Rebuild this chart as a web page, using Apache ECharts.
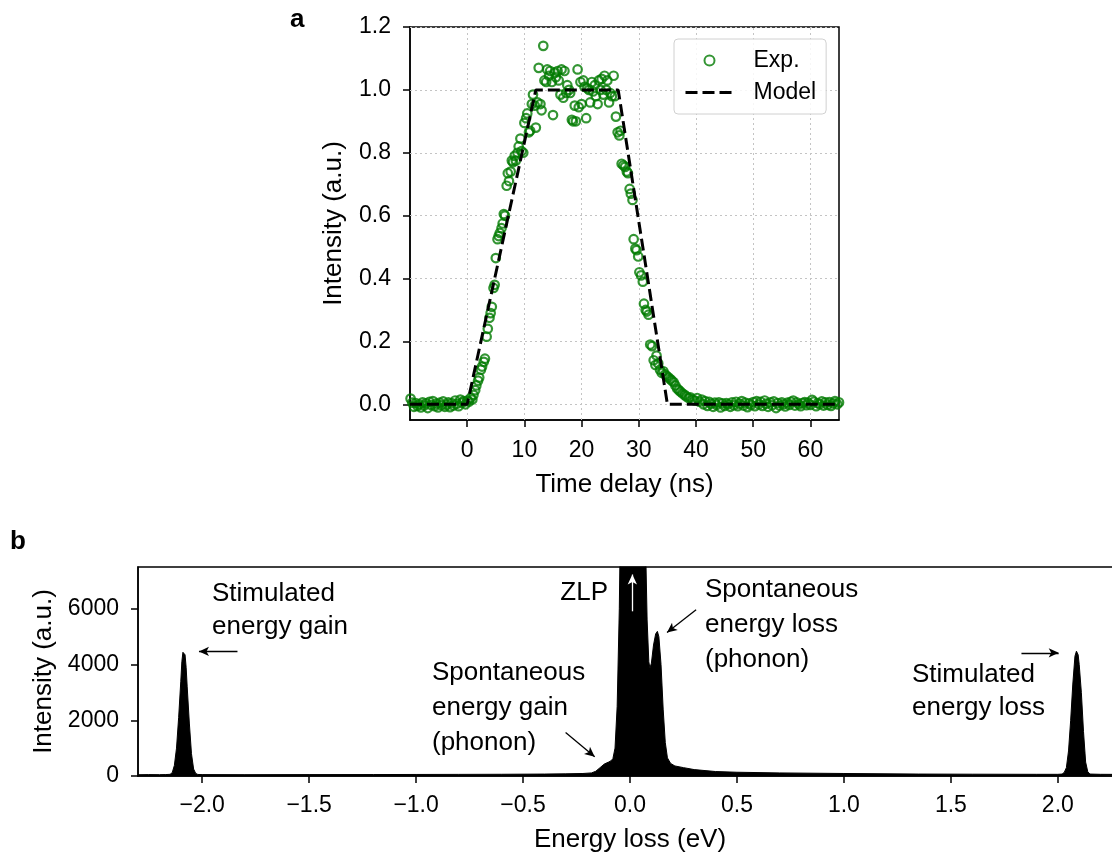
<!DOCTYPE html>
<html><head><meta charset="utf-8">
<script src="https://cdn.jsdelivr.net/npm/echarts@6/dist/echarts.min.js"></script>
<style>html,body{margin:0;padding:0;background:#fff}#c{width:1112px;height:853px}</style>
</head><body><div id="c"></div>
<script>
// ---------- Panel a data ----------
const expPoints = [
[-9.9,0.018],[-9.6,0.005],[-9.3,-0.008],[-9.0,0.004],[-8.7,-0.005],[-8.4,0.0],[-8.1,-0.01],[-7.8,0.006],[-7.5,-0.004],[-7.2,0.003],
[-6.9,-0.012],[-6.6,0.008],[-6.3,-0.002],[-6.0,0.01],[-5.7,-0.006],[-5.4,0.002],[-5.1,-0.01],[-4.8,0.005],[-4.5,-0.003],[-4.2,0.009],
[-3.9,-0.008],[-3.6,-0.001],[-3.3,0.006],[-3.0,-0.009],[-2.7,0.004],[-2.4,-0.004],[-2.1,0.012],[-1.8,0.002],[-1.5,-0.006],[-1.2,0.015],
[-0.9,0.005],[-0.6,0.01],[-0.3,0.0],[0.0,0.012],[0.3,0.008],[0.6,0.02],
[0.9,0.015],[1.1,0.03],[1.4,0.045],[1.6,0.06],[1.9,0.075],[2.1,0.085],[2.4,0.11],[2.6,0.12],[2.9,0.135],[3.1,0.145],
[3.4,0.215],[3.6,0.24],[3.9,0.275],[4.1,0.29],[4.3,0.31],[4.6,0.37],[4.8,0.38],[5.0,0.465],[5.3,0.525],[5.5,0.535],
[5.7,0.545],[6.0,0.56],[6.2,0.575],[6.4,0.605],[6.6,0.6],[6.9,0.695],[7.1,0.735],[7.3,0.71],[7.6,0.74],[7.8,0.775],
[8.0,0.77],[8.3,0.79],[8.5,0.775],[8.8,0.8],[9.0,0.82],[9.3,0.845],[9.5,0.805],[9.8,0.8],[10.0,0.895],[10.3,0.91],
[10.5,0.925],[10.8,0.865],[11.0,0.87],[11.3,0.955],[11.5,0.985],[11.8,0.95],
[12.0,0.88],[12.3,0.96],[12.5,1.07],[12.8,0.955],[13.0,0.935],[13.3,1.14],[13.5,1.03],[13.8,1.025],[14.0,1.065],[14.3,1.045],
[14.5,1.06],[14.8,1.025],[15.0,0.92],[15.3,1.055],[15.5,1.04],[15.8,1.06],[16.0,1.03],[16.3,0.985],[16.5,1.065],[16.8,0.975],
[17.0,1.06],[17.3,0.99],[17.5,1.015],[17.8,1.0],[18.0,0.99],[18.3,0.905],[18.5,0.9],[18.8,0.95],[19.0,0.9],[19.3,1.065],
[19.5,0.945],[19.8,1.025],[20.0,0.955],[20.3,1.03],[20.5,1.01],[20.8,0.91],[21.0,1.005],[21.3,1.0],[21.5,0.96],[21.8,1.025],
[22.0,0.995],[22.3,1.015],[22.5,0.98],[22.8,0.955],[23.0,1.03],[23.3,1.0],[23.5,1.035],[23.8,0.985],[24.0,1.045],[24.3,1.0],
[24.5,1.03],[24.8,0.96],[25.0,0.99],[25.3,0.98],[25.6,1.045],[25.8,0.98],
[26.0,0.915],[26.3,0.865],[26.6,0.855],[26.8,0.87],[27.0,0.765],[27.3,0.76],[27.6,0.755],[27.9,0.74],[28.1,0.735],[28.4,0.685],
[28.6,0.67],[28.9,0.65],[29.1,0.525],[29.4,0.495],[29.6,0.49],[29.9,0.47],[30.1,0.42],[30.4,0.41],[30.7,0.39],[30.9,0.32],
[31.2,0.3],[31.4,0.295],[31.7,0.285],[32.0,0.19],[32.3,0.185],[32.6,0.14],[32.9,0.125],[33.1,0.155],[33.4,0.13],[33.7,0.11],
[34.0,0.1],[34.3,0.105],[34.6,0.095],[34.9,0.09],[35.2,0.085],[35.5,0.08],[35.8,0.075],[36.1,0.07],[36.4,0.06],[36.7,0.05],
[37.0,0.045],[37.3,0.04],[37.6,0.035],[38.0,0.03],[38.3,0.025],[38.7,0.02],[39.0,0.022],[39.4,0.015],[39.8,0.012],[40.2,0.02],
[40.6,0.008],[41.0,0.015],
[41.3,0.0],[41.6,0.01],[42.0,-0.005],[42.3,0.008],[42.6,0.002],[43.0,-0.008],[43.3,0.005],[43.6,-0.002],[44.0,0.006],[44.3,-0.01],
[44.6,0.003],[45.0,-0.005],[45.3,0.004],[45.6,0.0],[46.0,-0.008],[46.3,0.006],[46.6,-0.003],[47.0,0.008],[47.3,-0.006],[47.6,0.002],
[48.0,0.01],[48.3,-0.004],[48.6,0.005],[49.0,-0.009],[49.3,0.003],[49.6,-0.002],[50.0,0.007],[50.3,-0.006],[50.6,0.01],[51.0,0.0],
[51.3,0.008],[51.6,-0.005],[52.0,0.012],[52.3,0.002],[52.6,-0.008],[53.0,0.006],[53.3,-0.003],[53.6,0.009],[54.0,-0.012],[54.3,0.004],
[54.6,-0.004],[55.0,0.006],[55.3,0.0],[55.6,-0.007],[56.0,0.005],[56.3,-0.002],[56.6,0.008],[57.0,0.012],[57.3,-0.004],[57.6,0.006],
[58.0,0.0],[58.3,-0.006],[58.6,0.004],[59.0,0.007],[59.3,-0.003],[59.6,0.005],[60.0,-0.002],[60.3,0.014],[60.6,0.008],[61.0,-0.006],
[61.3,0.004],[61.6,0.0],[62.0,0.009],[62.3,-0.004],[62.6,0.006],[63.0,-0.002],[63.3,0.007],[63.6,-0.005],[64.0,0.003],[64.3,0.01],
[64.7,0.0],[65.0,0.006]
];
const modelTime = [-10, 0, 12, 26.4, 35, 65];
const modelIntensity = [0, 0, 1, 1, 0, 0];
const timeTicks = [0, 10, 20, 30, 40, 50, 60];
const intensityTicks = [0, 0.2, 0.4, 0.6, 0.8, 1.0, 1.2];

// ---------- Panel b data ----------
const spectrum = [
[-2.30,45],[-2.25,50],[-2.20,48],[-2.17,52],[-2.15,60],[-2.14,120],[-2.13,380],[-2.12,1000],[-2.11,2100],[-2.10,3400],
[-2.095,4100],[-2.09,4440],[-2.085,4500],[-2.08,4350],[-2.075,3900],[-2.07,3200],[-2.06,1900],[-2.05,800],[-2.04,250],[-2.03,90],
[-2.02,55],[-2.0,50],[-1.8,48],[-1.5,50],[-1.2,52],[-1.0,55],[-0.8,58],[-0.6,62],[-0.4,70],[-0.3,78],
[-0.22,90],[-0.18,110],[-0.16,170],[-0.14,300],[-0.12,430],[-0.1,500],[-0.09,540],[-0.08,620],[-0.07,1000],[-0.06,2500],
[-0.05,6000],[-0.04,12000],[-0.02,30000],[0.0,48000],[0.015,52000],[0.03,45000],[0.05,25000],[0.065,12000],[0.075,7500],[0.08,5600],
[0.088,4100],[0.093,3870],[0.1,4050],[0.11,4700],[0.12,5100],[0.128,5190],[0.135,5000],[0.145,4000],[0.155,2400],[0.165,1200],
[0.175,650],[0.19,450],[0.21,360],[0.25,300],[0.3,230],[0.4,160],[0.5,135],[0.7,110],[1.0,90],[1.35,70],
[1.6,65],[1.9,60],[2.0,60],[2.02,70],[2.03,130],[2.04,300],[2.05,900],[2.06,2000],[2.07,3300],[2.08,4300],
[2.087,4480],[2.095,4350],[2.1,4000],[2.11,3000],[2.12,1600],[2.13,500],[2.14,150],[2.15,70],[2.2,60],[2.3,58]
];
const energyTicks = [-2.0, -1.5, -1.0, -0.5, 0.0, 0.5, 1.0, 1.5, 2.0];
const countTicks = [0, 2000, 4000, 6000];

// annotation arrows (data coordinates of panel b)
const arrowFrom = [[-1.835,4470],[1.83,4420],[-0.301,1558],[0.309,5964],[0.011,5910]];
const arrowTo   = [[-2.015,4470],[2.004,4420],[-0.165,694],[0.173,5147],[0.011,7230]];
const arrowColor = ['#000','#000','#000','#000','#fff'];

const FONT = "'Liberation Sans', Arial, Helvetica, sans-serif";
const chart = echarts.init(document.getElementById('c'));

const axisLine = {show:true, onZero:false, lineStyle:{color:'#000', width:1.5}};
function ticks(vals){ return {show:true, customValues:vals, length:7, inside:false, lineStyle:{color:'#000', width:1.5}}; }
function minus(s){ return s.replace('-', '\u2212'); }
const nameStyle = {fontSize:26, color:'#000', fontFamily:FONT};
const gridLineStyle = {color:'#c4c4c4', width:1, type:[2,3]};
const modelLineStyle = {color:'#000', width:3, type:[12,5]};

const gridLines = intensityTicks.map(v => ({yAxis:v}))
  .concat(timeTicks.map(v => ({xAxis:v})));

const option = {
  animation:false,
  textStyle:{fontFamily:FONT},
  grid:[
    {left:410, top:27, width:429, height:393, show:true, borderColor:'#000', borderWidth:1.5, outerBoundsMode:'none', containLabel:false},
    {left:138, top:567, width:984, height:209, show:true, borderColor:'#000', borderWidth:1.5, outerBoundsMode:'none', containLabel:false}
  ],
  xAxis:[
    {type:'value', gridIndex:0, min:-10, max:65,
     name:'Time delay (ns)', nameLocation:'middle', nameGap:52, nameTextStyle:nameStyle,
     axisLine:axisLine, axisTick:ticks(timeTicks),
     axisLabel:{customValues:timeTicks, fontSize:23, color:'#000', margin:19, fontFamily:FONT},
     splitLine:{show:false}},
    {type:'value', gridIndex:1, min:-2.3, max:2.3,
     name:'Energy loss (eV)', nameLocation:'middle', nameGap:51, nameTextStyle:nameStyle,
     axisLine:axisLine, axisTick:ticks(energyTicks),
     axisLabel:{customValues:energyTicks, fontSize:23, color:'#000', margin:18, fontFamily:FONT,
       formatter:v=>minus(Number(v).toFixed(1))},
     splitLine:{show:false}}
  ],
  yAxis:[
    {type:'value', gridIndex:0, min:-0.05, max:1.2,
     name:'Intensity (a.u.)', nameLocation:'middle', nameGap:63, nameTextStyle:nameStyle,
     axisLine:axisLine, axisTick:ticks(intensityTicks),
     axisLabel:{customValues:intensityTicks, fontSize:23, color:'#000', margin:19, fontFamily:FONT,
       formatter:v=>Number(v).toFixed(1)},
     splitLine:{show:false}},
    {type:'value', gridIndex:1, min:0, max:7500,
     name:'Intensity (a.u.)', nameLocation:'middle', nameGap:78, nameTextStyle:nameStyle,
     axisLine:axisLine, axisTick:ticks(countTicks),
     axisLabel:{customValues:countTicks, fontSize:23, color:'#000', margin:19, fontFamily:FONT,
       formatter:v=>String(Math.round(v))},
     splitLine:{show:false}}
  ],
  legend:{
    show:true, left:674, top:39, orient:'vertical', padding:[10,10,10,10], itemGap:9,
    itemWidth:48, itemHeight:10, borderColor:'#d0d0d0', borderWidth:1, borderRadius:4,
    backgroundColor:'rgba(255,255,255,0.85)', selectedMode:false, z:10,
    textStyle:{fontSize:23, color:'#000', fontFamily:FONT, padding:[0,0,0,15]},
    data:[{name:'Exp.', icon:'circle'},
          {name:'Model', itemStyle:{opacity:0}, lineStyle:modelLineStyle}]
  },
  series:[
    {type:'line', name:'grid', xAxisIndex:0, yAxisIndex:0,
     data:modelTime.map((t,i)=>[t, modelIntensity[i]]), symbol:'none',
     lineStyle:{opacity:0, width:0}, silent:true, z:1,
     markLine:{z:1, silent:true, symbol:['none','none'], label:{show:false}, lineStyle:gridLineStyle,
       emphasis:{disabled:true}, data:gridLines}},
    {type:'scatter', name:'Exp.', xAxisIndex:0, yAxisIndex:0, data:expPoints,
     symbol:'circle', symbolSize:8.5,
     itemStyle:{color:'transparent', borderColor:'#007a00', borderWidth:2.2}, z:2},
    {type:'line', name:'Model', xAxisIndex:0, yAxisIndex:0,
     data:modelTime.map((t,i)=>[t, modelIntensity[i]]), symbol:'none',
     lineStyle:modelLineStyle, itemStyle:{color:'#000'}, z:3},
    {type:'line', name:'Spectrum', xAxisIndex:1, yAxisIndex:1, data:spectrum, symbol:'none',
     lineStyle:{color:'#000', width:1}, itemStyle:{color:'#000'},
     areaStyle:{color:'#000', opacity:1},
     markLine:{silent:true, symbol:['none','arrow'], symbolSize:[7,10], label:{show:false},
       lineStyle:{color:'#000', width:1.3, type:'solid'}, emphasis:{disabled:true},
       data:arrowFrom.map((f,i)=>[{coord:f, lineStyle:{color:arrowColor[i], width:1.3, type:'solid'}}, {coord:arrowTo[i]}])}
    }
  ],
  graphic:[
    {type:'text', x:290, y:7, style:{text:'a', font:'bold 26px '+FONT, fill:'#000'}},
    {type:'text', x:10, y:529, style:{text:'b', font:'bold 26px '+FONT, fill:'#000'}},
    {type:'text', x:212, y:577, style:{text:'Stimulated\nenergy gain', font:'26px '+FONT, lineHeight:33, fill:'#000'}},
    {type:'text', x:608, y:576, style:{text:'ZLP', font:'26px '+FONT, lineHeight:33, fill:'#000', align:'right'}},
    {type:'text', x:432, y:655, style:{text:'Spontaneous\nenergy gain\n(phonon)', font:'26px '+FONT, lineHeight:35, fill:'#000'}},
    {type:'text', x:705, y:572, style:{text:'Spontaneous\nenergy loss\n(phonon)', font:'26px '+FONT, lineHeight:35, fill:'#000'}},
    {type:'text', x:912, y:658, style:{text:'Stimulated\nenergy loss', font:'26px '+FONT, lineHeight:33, fill:'#000'}}
  ]
};
chart.setOption(option);
</script>
</body></html>
